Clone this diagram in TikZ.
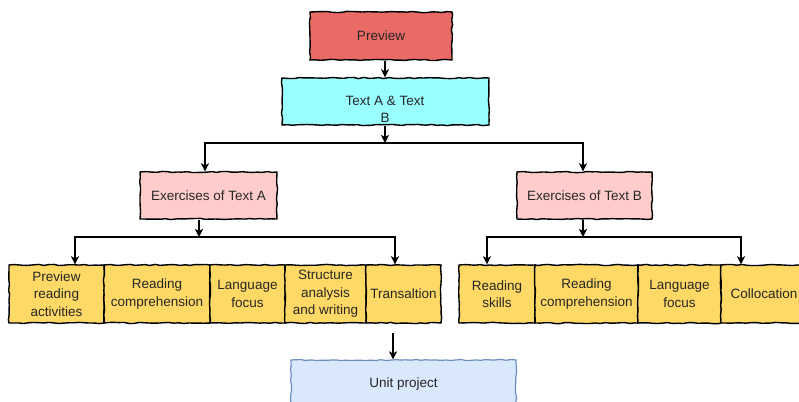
\documentclass[tikz,border=0pt]{standalone}
\usepackage{fontspec}
\setmainfont{Liberation Sans}
\usetikzlibrary{arrows.meta,decorations.pathmorphing,calc}
\definecolor{cred}{HTML}{EA6B66}
\definecolor{ccyan}{HTML}{99FFFF}
\definecolor{cpink}{HTML}{FFCCCC}
\definecolor{cyel}{HTML}{FFD966}
\definecolor{cbluef}{HTML}{DAE8FC}
\definecolor{cblued}{HTML}{6C8EBF}
\begin{document}
\pgfmathsetseed{7}
\begin{tikzpicture}[x=1pt,y=-1pt,
  sk/.style={decorate,decoration={random steps,segment length=5pt,amplitude=0.6pt}},
  box/.style={sk,draw=black,line width=1.4pt,inner sep=1pt,align=center,
    font=\fontsize{13.5}{17.5}\selectfont,text=black!85},
  arr/.style={line width=1.4pt,-{Stealth[length=8pt,width=8pt,inset=2pt]}},
  lin/.style={line width=1.4pt}]
\useasboundingbox (0,0) rectangle (799,401);
\clip (0,0) rectangle (799,401);
% top
\node[box,fill=cred,minimum width=142pt,minimum height=48pt] (pv) at (381,36) {Preview};
\node[box,fill=ccyan,minimum width=207pt,minimum height=47pt] (ab) at (385.5,101.5) {};
\node[align=center,font=\fontsize{13.5}{17}\selectfont,text=black!85] (abt) at (385,109) {Text A \& Text\\B};
\draw[arr] ([xshift=-0.5pt]ab.north |- pv.south) -- ([xshift=-0.5pt]ab.north);
\coordinate (busab) at (385,143);
\draw[arr] ([xshift=-0.5pt]ab.south) -- (busab);
% exercises
\node[box,fill=cpink,minimum width=137pt,minimum height=47pt] (ea) at (208.5,195.5) {Exercises of Text A};
\node[box,fill=cpink,minimum width=135pt,minimum height=47pt] (eb) at (584.5,195.5) {Exercises of Text B};
\draw[arr] (busab) -| ([xshift=-3.5pt]ea.north);
\draw[arr] (busab) -| ([xshift=-1.5pt]eb.north);
% bottom row left
\tikzset{yb/.style={box,fill=cyel,minimum height=58pt}}
\node[yb,minimum width=95pt] (a1) at (56.5,294) {Preview\\reading\\activities};
\node[yb,minimum width=106pt] (a2) at (157,294) {Reading\\comprehension};
\node[yb,minimum width=75pt] (a3) at (247.5,294) {Language\\focus};
\node[yb,minimum width=81pt] (a4) at (325.5,294) {Structure\\analysis\\and writing};
\node[yb,minimum width=75pt] (a5) at (403.5,294) {Transaltion};
% bottom row right
\node[yb,minimum width=76pt] (b1) at (497,294) {Reading\\skills};
\node[yb,minimum width=103pt] (b2) at (586.5,294) {Reading\\comprehension};
\node[yb,minimum width=83pt] (b3) at (679.5,294) {Language\\focus};
\node[yb,minimum width=86pt] (b4) at (764,294) {Collocation};
% connectors to bottom rows
\coordinate (busa) at (199,237);
\coordinate (busb) at (583,237);
\draw[arr] ([xshift=-9.5pt]ea.south) -- (busa);
\draw[arr] ([xshift=-1.5pt]eb.south) -- (busb);
\draw[arr] (busa) -| ([xshift=18.5pt]a1.north);
\draw[arr] (busa) -| ([xshift=-8.5pt]a5.north);
\draw[arr] (busb) -| ([xshift=-10pt]b1.north);
\draw[arr] (busb) -| ([xshift=-23pt]b4.north);
% unit project
\node[box,draw=cblued,line width=1.2pt,fill=cbluef,minimum width=225pt,minimum height=48pt] (up) at (403.5,384) {Unit project};
\coordinate (ups) at (393,333);
\draw[arr] (ups) -- ([xshift=-10.5pt]up.north);
\end{tikzpicture}
\end{document}
